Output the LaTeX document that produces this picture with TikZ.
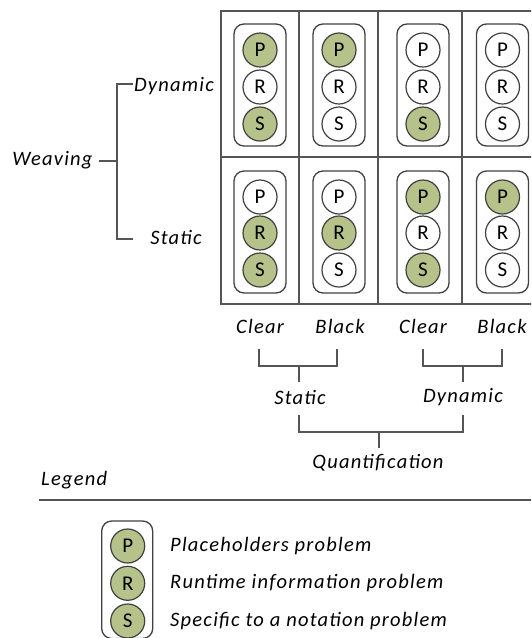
\documentclass[tikz,border=0pt]{standalone}
\usepackage{fontspec}
\setmainfont{Carlito}[LetterSpace=6]
\definecolor{linegray}{RGB}{85,85,85}
\definecolor{dotgray}{RGB}{64,64,64}
\definecolor{leaf}{RGB}{181,195,138}
\tikzset{
  line/.style={draw=linegray, line width=1.8pt},
  pill/.style={draw=dotgray, line width=1.3pt, rounded corners=10pt},
  dot/.style={circle, draw=dotgray, line width=1.2pt, minimum size=34pt,
    inner sep=0pt, font=\fontsize{21}{21}\selectfont},
  on/.style={dot, fill=leaf},
  off/.style={dot, fill=white},
  lab/.style={font=\fontsize{20.5}{22}\selectfont\itshape, inner sep=0pt},
}
\newcommand{\pillat}[3]{% x, top y, bottom y
  \draw[pill] (#1-26,#2) rectangle (#1+26,#3);}
\begin{document}
\begin{tikzpicture}[x=1pt,y=-1pt]
\useasboundingbox (0,0) rectangle (531,638);
\clip (0,0) rectangle (531,638);

% grid of cells
\draw[line] (542,10.7) -- (221,10.7) -- (221,304) -- (542,304);
\draw[line] (221,157) -- (542,157);
\foreach \gx in {299,378,462} \draw[line] (\gx,10.7) -- (\gx,304);

% pills
\foreach \cx in {260,339,423,502.5} {
  \pillat{\cx}{24}{146}
  \pillat{\cx}{171}{293}
}

% top row (dynamic weaving)
\node[on]  (t1p) at (260,50) {P};
\node[off] (t1r) at (260,87) {R};
\node[on]  (t1s) at (260,124) {S};
\node[on]  (t2p) at (339,50) {P};
\node[off] (t2r) at (339,87) {R};
\node[off] (t2s) at (339,124) {S};
\node[off] (t3p) at (423,50) {P};
\node[off] (t3r) at (423,87) {R};
\node[on]  (t3s) at (423,124) {S};
\node[off] (t4p) at (502.5,50) {P};
\node[off] (t4r) at (502.5,87) {R};
\node[off] (t4s) at (502.5,124) {S};

% bottom row (static weaving)
\node[off] (b1p) at (260,197) {P};
\node[on]  (b1r) at (260,233) {R};
\node[on]  (b1s) at (260,270) {S};
\node[off] (b2p) at (339,197) {P};
\node[on]  (b2r) at (339,233) {R};
\node[off] (b2s) at (339,270) {S};
\node[on]  (b3p) at (423,197) {P};
\node[off] (b3r) at (423,233) {R};
\node[on]  (b3s) at (423,270) {S};
\node[on]  (b4p) at (502.5,197) {P};
\node[off] (b4r) at (502.5,233) {R};
\node[off] (b4s) at (502.5,270) {S};

% weaving tree
\node[lab] (wdyn) at (174,86) {Dynamic};
\node[lab] (wsta) at (176,237) {Static};
\node[lab] (weav) at (52.5,160) {Weaving};
\coordinate (wtop) at (117,84);
\coordinate (wbot) at (117,239);
\draw[line] (wtop -| wdyn.west) ++(-1,0) -- (wtop) -- (wbot) -- ++(16,0);
\draw[line] (weav.east) ++(6,1) -- (117,161);

% quantification tree
\node[lab] (qc1) at (260,326) {Clear};
\node[lab] (qb1) at (340,326) {Black};
\node[lab] (qc2) at (423,326) {Clear};
\node[lab] (qb2) at (502,326) {Black};
\node[lab] (qsta) at (300,397) {Static};
\node[lab] (qdyn) at (463,397) {Dynamic};
\node[lab] (quan) at (378,463) {Quantification};

\draw[line] (258.7,349) -- (258.7,366) -- (337.3,366) -- (337.3,349);
\draw[line] (299,366) -- (299,382);
\draw[line] (422.7,349) -- (422.7,366) -- (501.7,366) -- (501.7,349);
\draw[line] (463,366) -- (463,382);
\draw[line] (299,415) -- (299,432) -- (463,432) -- (463,415);
\draw[line] (379,432) -- (379,448);

% legend
\node[lab, anchor=west] (leg) at (41,480) {Legend};
\draw[line] (39,500) -- (540,500);
\draw[pill] (101.7,521) rectangle (152.7,638.5);
\node[on] (lp) at (127.7,546) {P};
\node[on] (lr) at (127.7,583.3) {R};
\node[on] (ls) at (127.7,621) {S};
\node[lab, anchor=west] at (170,546) {Placeholders problem};
\node[lab, anchor=west] at (170,583.3) {Runtime information problem};
\node[lab, anchor=west] at (170,621) {Specific to a notation problem};
\end{tikzpicture}
\end{document}
